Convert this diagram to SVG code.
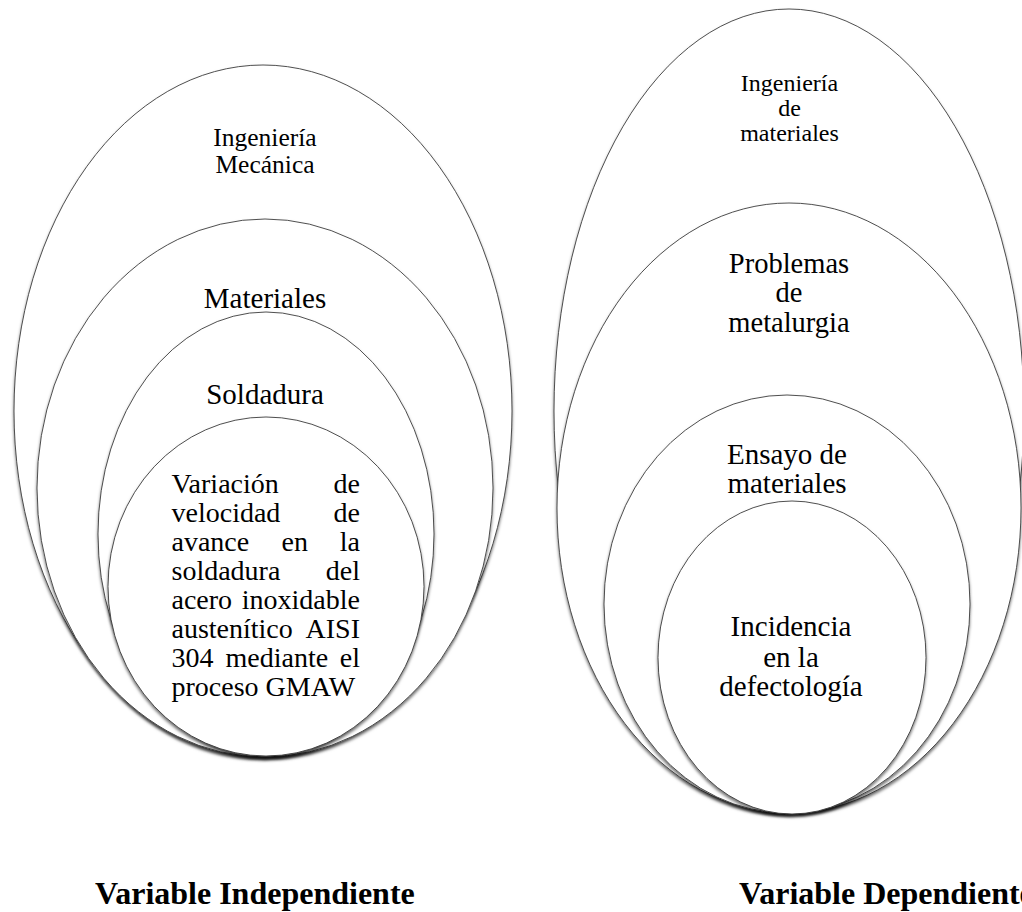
<svg xmlns="http://www.w3.org/2000/svg" width="1022" height="912" viewBox="0 0 1022 912">
  <style>
    .ov { fill: #ffffff; stroke: #3c3c3c; stroke-width: 0.9; filter: url(#sh); }
    .t { font-family: "Liberation Serif", "Times New Roman", serif; fill: #000000; }
    .c { text-anchor: middle; }
    .e { text-anchor: end; }
    .b { font-weight: bold; font-size: 32px; }
  </style>
  <defs>
    <filter id="sh" x="-10%" y="-10%" width="120%" height="125%">
      <feDropShadow dx="0" dy="2.5" stdDeviation="1.8" flood-color="#000000" flood-opacity="0.55"/>
    </filter>
  </defs>
  <rect width="1022" height="912" fill="#ffffff"/>

  <g id="independiente">
    <g id="ing-mecanica">
      <ellipse class="ov" cx="263" cy="411" rx="249" ry="346"/>
      <text class="t c" x="265" y="146" font-size="25.5">Ingeniería</text>
      <text class="t c" x="265" y="173" font-size="25.5">Mecánica</text>
    </g>
    <g id="materiales">
      <ellipse class="ov" cx="265" cy="488" rx="228" ry="269"/>
      <text class="t c" x="265" y="308" font-size="29">Materiales</text>
    </g>
    <g id="soldadura">
      <ellipse class="ov" cx="266" cy="534" rx="168" ry="222"/>
      <text class="t c" x="265" y="404" font-size="29">Soldadura</text>
    </g>
    <g id="variacion">
      <ellipse class="ov" cx="266" cy="586.5" rx="158" ry="169.5"/>
      <g class="t" font-size="28">
        <text x="171.5" y="493">Variación</text>
        <text class="e" x="360" y="493">de</text>
        <text x="171.5" y="522">velocidad</text>
        <text class="e" x="360" y="522">de</text>
        <text x="171.5" y="551">avance</text>
        <text x="281.5" y="551">en</text>
        <text class="e" x="360" y="551">la</text>
        <text x="171.5" y="580">soldadura</text>
        <text class="e" x="360" y="580">del</text>
        <text x="171.5" y="609">acero</text>
        <text class="e" x="360" y="609">inoxidable</text>
        <text x="171.5" y="638">austenítico</text>
        <text class="e" x="360" y="638">AISI</text>
        <text x="171.5" y="667">304</text>
        <text x="225.5" y="667">mediante</text>
        <text class="e" x="360" y="667">el</text>
        <text x="171.5" y="696">proceso GMAW</text>
      </g>
    </g>
  </g>

  <g id="dependiente">
    <g id="ing-materiales">
      <ellipse class="ov" cx="789" cy="411" rx="235" ry="402"/>
      <text class="t c" x="789.5" y="91" font-size="24">Ingeniería</text>
      <text class="t c" x="789.5" y="116" font-size="24">de</text>
      <text class="t c" x="789.5" y="141" font-size="24">materiales</text>
    </g>
    <g id="metalurgia">
      <ellipse class="ov" cx="789" cy="508" rx="232" ry="305"/>
      <text class="t c" x="789" y="273" font-size="28.5">Problemas</text>
      <text class="t c" x="789" y="302" font-size="28.5">de</text>
      <text class="t c" x="789" y="332" font-size="28.5">metalurgia</text>
    </g>
    <g id="ensayo">
      <ellipse class="ov" cx="787" cy="604" rx="183" ry="209"/>
      <text class="t c" x="787" y="464" font-size="29">Ensayo de</text>
      <text class="t c" x="787" y="493" font-size="29">materiales</text>
    </g>
    <g id="incidencia">
      <ellipse class="ov" cx="792" cy="657.5" rx="134" ry="156.5"/>
      <text class="t c" x="791" y="636" font-size="29">Incidencia</text>
      <text class="t c" x="791" y="667" font-size="29">en la</text>
      <text class="t c" x="791" y="696" font-size="29">defectología</text>
    </g>
  </g>

  <g id="connectors"/>

  <g id="labels">
    <text class="t b" x="95" y="904">Variable Independiente</text>
    <text class="t b" x="739" y="904">Variable Dependiente</text>
  </g>
</svg>
